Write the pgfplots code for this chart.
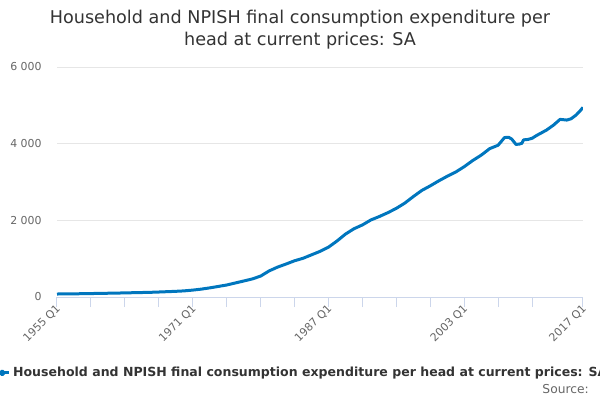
\documentclass[border=0pt]{standalone}
\usepackage{pgfplots}
\pgfplotsset{compat=1.18}
\usepackage{fontspec}
\setmainfont{DejaVu Sans}
\definecolor{lineblue}{HTML}{0076BE}
\definecolor{axisblue}{HTML}{CCD6EB}
\definecolor{gridgray}{HTML}{E6E6E6}
\definecolor{labgray}{HTML}{666666}
\definecolor{titlegray}{HTML}{333333}
\begin{document}
\begin{tikzpicture}[x=0.75pt,y=0.75pt]
\useasboundingbox (0,0) rectangle (600,400);
\node[font=\fontsize{13.2}{15}\selectfont, text=titlegray] at (300,400-19) {Household and NPISH final consumption expenditure per};
\node[font=\fontsize{13.2}{15}\selectfont, text=titlegray] at (300,400-41) {head at current prices: SA};
\begin{axis}[
  at={(42.75pt,77.25pt)}, anchor=south west,
  scale only axis, width=394.5pt, height=172.5pt,
  xmin=1955, xmax=2017, ymin=0, ymax=6000,
  axis x line*=bottom, axis y line*=left,
  y axis line style={draw=none},
  x axis line style={color=axisblue, line width=0.75pt},
  ytick={0,2000,4000,6000},
  ymajorgrids, grid style={color=gridgray, line width=0.75pt},
  ytick style={draw=none},
  xtick={1955,1959,1963,1967,1971,1975,1979,1983,1987,1991,1995,1999,2003,2007,2011,2017},
  xticklabels={1955 Q1,,,,1971 Q1,,,,1987 Q1,,,,2003 Q1,,,2017 Q1},
  xtick align=outside, major tick length=7.5pt,
  xtick style={color=axisblue, line width=0.75pt},
  xticklabel style={rotate=45, anchor=north east, font=\fontsize{8.2}{10}\selectfont, text=labgray, inner sep=1pt, yshift=4pt, xshift=2pt},
  yticklabel style={font=\fontsize{8.2}{10}\selectfont, text=labgray, xshift=-8pt, /pgf/number format/1000 sep={\ }},
  /pgf/number format/assume math mode=true,
  legend style={at={(-0.12,-0.33)}, anchor=west, draw=none, fill=none,
    font=\bfseries\fontsize{9.4}{11}\selectfont, text=titlegray, inner sep=0pt},
  legend image code/.code={\draw[#1] plot coordinates {(0pt,0pt) (10pt,0pt)}; \fill[lineblue] (5pt,0pt) circle (1.4pt);},
]
\addplot[color=lineblue, line width=2.25pt, line join=round] coordinates {
(1955,78)(1956,80)(1957,83)(1958,86)(1959,90)(1960,94)(1961,98)(1962,102)
(1963,107)(1964,112)(1965,117)(1966,122)(1967,130)(1968,139)(1969,148)(1970,160)
(1971,180)(1972,205)(1973,238)(1974,275)(1975,313)(1976,365)(1977,417)(1978,470)
(1979,545)(1980,680)(1981,780)(1982,860)(1983,945)(1984,1010)(1985,1100)(1986,1190)
(1987,1300)(1988,1460)(1989,1640)(1990,1780)(1991,1880)(1992,2010)(1993,2100)
(1994,2200)(1995,2313)(1996,2450)(1997,2620)(1998,2780)(1999,2900)(2000,3030)
(2001,3150)(2002,3260)(2003,3400)(2004,3560)(2005,3700)(2006,3870)(2007,3960)
(2007.75,4160)(2008.25,4165)(2008.6,4120)(2009.1,3980)(2009.5,3990)(2009.8,4010)
(2010.0,4100)(2010.5,4110)(2011,4140)(2011.5,4210)(2012,4270)(2012.7,4355)
(2013.5,4480)(2014.3,4634)(2015.1,4616)(2015.6,4650)(2016.2,4750)(2016.6,4840)(2017,4947)
};
\addlegendentry{Household and NPISH final consumption expenditure per head at current prices: SA}
\end{axis}
\node[anchor=base east, font=\fontsize{9.2}{11}\selectfont, text=labgray, inner sep=0pt] at (589,400-393) {Source:};
\end{tikzpicture}
\end{document}
